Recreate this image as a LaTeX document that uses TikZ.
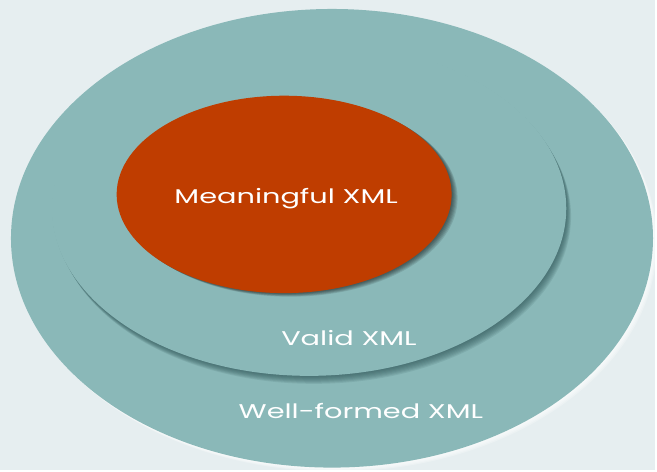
\documentclass[tikz,border=0pt]{standalone}
\usepackage{fontspec}
\setmainfont{Poppins}[FakeStretch=1.45]
\usetikzlibrary{shapes.geometric}
\definecolor{bgblue}{HTML}{E6EEF0}
\definecolor{setteal}{HTML}{8AB8B8}
\definecolor{setred}{HTML}{BF3D00}
\definecolor{shadeteal}{HTML}{2F5557}
\tikzset{
  setlabel/.style={text=white, font=\fontsize{17}{20}\selectfont},
  xmlset/.style={ellipse, fill=setteal, inner sep=0pt}
}
\begin{document}
\begin{tikzpicture}[x=0.03cm, y=-0.03cm]
\fill[bgblue] (0,0) rectangle (657,471);
\foreach \d in {1,...,4}
  \fill[white, opacity=0.25] (333+\d,239+\d) ellipse (322 and 230);
\node[xmlset, minimum width=644*0.03cm, minimum height=460*0.03cm] (wellformed) at (333,239) {};
\foreach \d in {1,...,8}
  \fill[shadeteal, opacity=0.12] (310+0.6*\d,209+\d) ellipse (258 and 168);
\node[xmlset, minimum width=516*0.03cm, minimum height=336*0.03cm] (valid) at (310,209) {};
\foreach \d in {1,...,6}
  \fill[black, opacity=0.1] (285+\d,195+0.6*\d) ellipse (168 and 99);
\node[xmlset, fill=setred, minimum width=336*0.03cm, minimum height=198*0.03cm] (meaningful) at (285,195) {};
\node[setlabel] (meaningfultext) at (287,199) {Meaningful XML};
\node[setlabel] (validtext) at (350,339) {Valid XML};
\node[setlabel] (wellformedtext) at (362,412) {Well-formed XML};
\end{tikzpicture}
\end{document}
